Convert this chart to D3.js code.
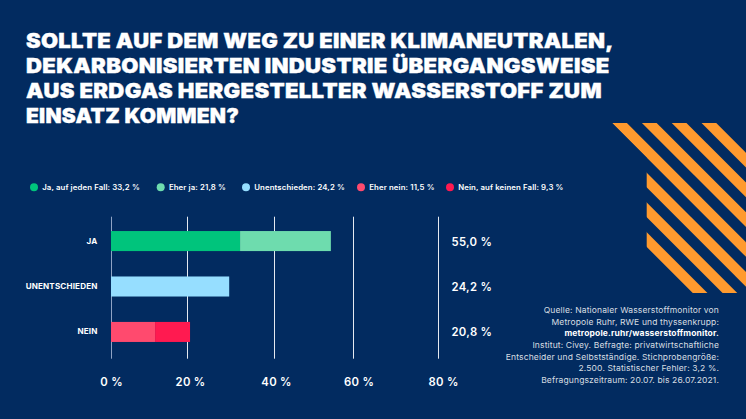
<!DOCTYPE html>
<html><head><meta charset="utf-8">
<script src="https://cdn.jsdelivr.net/npm/d3@7"></script>
<style>
html,body{margin:0;padding:0;background:#022b60;overflow:hidden}
svg{display:block}
text{font-family:"Inter","Lato",sans-serif;fill:#fff}
</style></head><body>
<script>
const titleLines = ["SOLLTE AUF DEM WEG ZU EINER KLIMANEUTRALEN,","DEKARBONISIERTEN INDUSTRIE ÜBERGANGSWEISE","AUS ERDGAS HERGESTELLTER WASSERSTOFF ZUM","EINSATZ KOMMEN?"];
const legendLabels = ["Ja, auf jeden Fall: 33,2 %","Eher ja: 21,8 %","Unentschieden: 24,2 %","Eher nein: 11,5 %","Nein, auf keinen Fall: 9,3 %"];
const seriesColors = ["#00c47c","#6edcae","#96deff","#ff4a6e","#ff1a50"];
const categories = ["JA","UNENTSCHIEDEN","NEIN"];
const totalLabels = ["55,0 %","24,2 %","20,8 %"];
const barCategory = [0,0,1,2,2];
const barValues = [32.2,22.2,29.7,11.6,9.1];
const axisTicks = [0,20,40,60,80];
const sourceLines = ["Quelle: Nationaler Wasserstoffmonitor von","Metropole Ruhr, RWE und thyssenkrupp:","metropole.ruhr/wasserstoffmonitor.","Institut: Civey. Befragte: privatwirtschaftliche","Entscheider und Selbstständige. Stichprobengröße:","2.500. Statistischer Fehler: 3,2 %.","Befragungszeitraum: 20.07. bis 26.07.2021."];

const W=746,H=419;
const svg=d3.select("body").append("svg").attr("width",W).attr("height",H);
svg.append("rect").attr("width",W).attr("height",H).attr("fill","#022b60");

// title
const titleStretch=[1.125,1.13,1.13,1.07];
svg.append("g").selectAll("text").data(titleLines).join("text")
  .attr("transform",(d,i)=>`translate(26,${47.5+i*25.1}) scale(${titleStretch[i]},1)`)
  .attr("font-size",19.6).attr("font-weight",900).attr("letter-spacing",0.25)
  .attr("stroke","#fff").attr("stroke-width",0.35).text(d=>d);

// decoration
const defs=svg.append("defs");
defs.append("clipPath").attr("id","stripeClip").append("polygon")
  .attr("points","612,123 746,123 746,293 646.7,293 646.7,157.7");
const stripes=d3.range(-3,4);
svg.append("g").attr("clip-path","url(#stripeClip)").selectAll("line").data(stripes).join("line")
  .attr("x1",d=>619.5+d*29.8-20).attr("y1",103).attr("x2",d=>619.5+d*29.8+200).attr("y2",323)
  .attr("stroke","#ff9a2e").attr("stroke-width",10.4);

// legend
const legendDotX=[34,160.7,246,361,450];
const lg=svg.append("g").selectAll("g").data(legendLabels).join("g");
lg.append("circle").attr("cx",(d,i)=>legendDotX[i]).attr("cy",187.3).attr("r",4).attr("fill",(d,i)=>seriesColors[i]);
lg.append("text").attr("transform",(d,i)=>`translate(${legendDotX[i]+8.2},190) scale(1.1,1)`)
  .attr("font-size",7.1).attr("font-weight",600).attr("letter-spacing",0.1).text(d=>d);

// scales
const x=d3.scaleLinear().domain(axisTicks).range([111,187,274,353,438]);
const xLabel=d3.scaleLinear().domain(axisTicks).range([111,190,276,358.5,443]);
const y=d3.scaleBand().domain(categories).range([218.5,354.5]).paddingInner(0.559).paddingOuter(0.276);

// grid
const gridAxis=d3.axisBottom(x).tickValues(axisTicks).tickSize(-142).tickFormat("");
const grid=svg.append("g").attr("transform","translate(0,358.7)").call(gridAxis);
grid.select(".domain").remove();
grid.selectAll("line").attr("stroke",d=>d===0?"#8fa3c4":"#e4e9f0").attr("stroke-width",1);

// bars
let running=categories.map(()=>0);
const bars=barValues.map((v,i)=>{const c=barCategory[i],s=running[c];running[c]+=v;return {c,s,e:s+v,i};});
svg.append("g").selectAll("rect").data(bars).join("rect")
  .attr("x",d=>x(d.s)).attr("width",d=>x(d.e)-x(d.s))
  .attr("y",d=>y(categories[d.c])).attr("height",y.bandwidth())
  .attr("fill",d=>seriesColors[d.i]);

// category labels
svg.append("g").selectAll("text").data(categories).join("text")
  .attr("transform",d=>`translate(97.5,${y(d)+y.bandwidth()/2+2.5}) scale(1.09,1)`)
  .attr("text-anchor","end").attr("font-size",7.4).attr("font-weight",700).attr("letter-spacing",0.15).text(d=>d);

// totals
svg.append("g").selectAll("text").data(totalLabels).join("text")
  .attr("x",451.5).attr("y",(d,i)=>y(categories[i])+y.bandwidth()/2+4.5)
  .attr("font-size",11.3).attr("font-weight",600).attr("letter-spacing",0.3).text(d=>d);

// tick labels
const labelAxis=d3.axisBottom(xLabel).tickValues(axisTicks).tickSize(0).tickFormat(d=>d+" %");
const la=svg.append("g").attr("transform","translate(0,376)").call(labelAxis);
la.select(".domain").remove();
la.selectAll("text").attr("font-size",11.3).attr("font-weight",600).attr("letter-spacing",0.3)
  .attr("font-family",null).attr("fill","#fff").attr("y",0).attr("dy",10);

// source
svg.append("g").selectAll("text").data(sourceLines).join("text")
  .attr("transform",(d,i)=>`translate(719,${313+i*11.65}) scale(1.04,1)`).attr("text-anchor","end")
  .attr("font-size",8.2).attr("font-weight",d=>d.startsWith("metropole")?700:400)
  .attr("letter-spacing",0.12).attr("fill-opacity",d=>d.startsWith("metropole")?1:0.85).text(d=>d);
</script></body></html>
